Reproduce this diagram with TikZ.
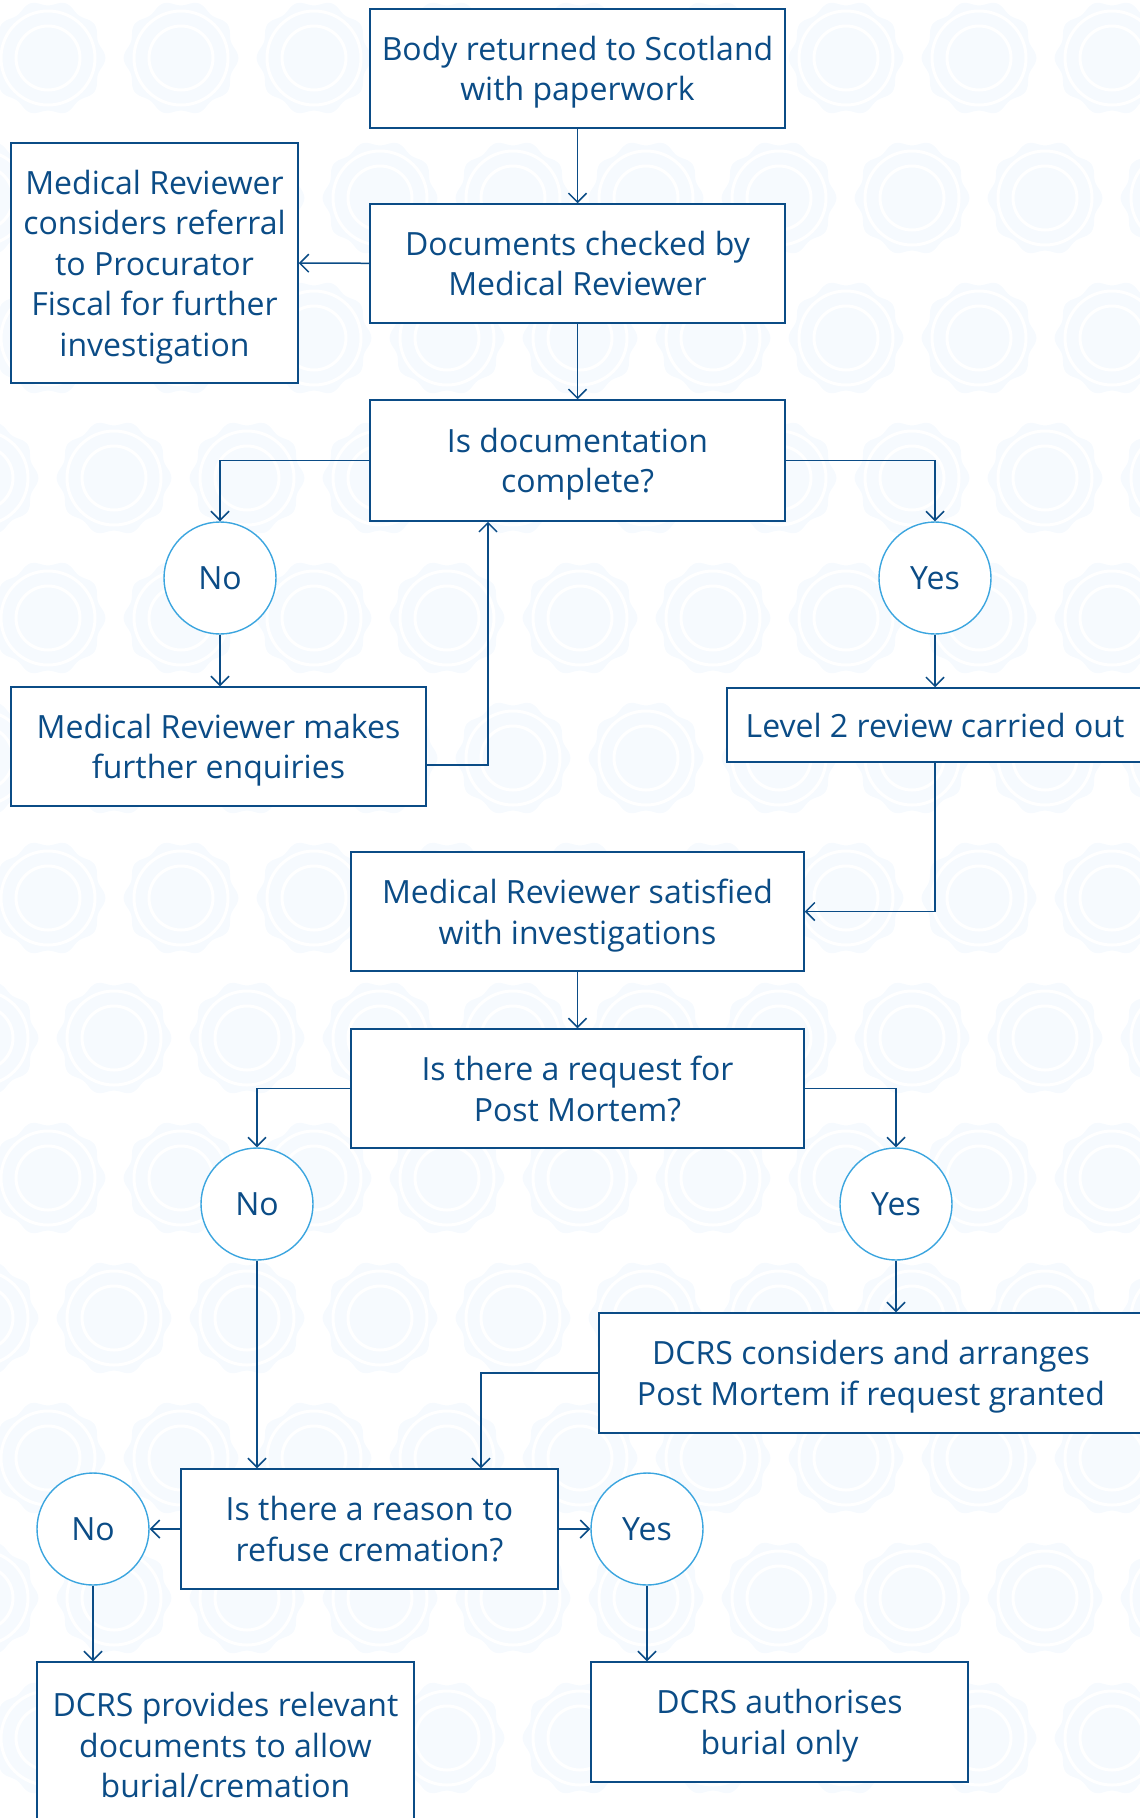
\documentclass[tikz,border=0pt]{standalone}
\usepackage{fontspec}
\setmainfont{Open Sans}
\usetikzlibrary{positioning,calc,arrows.meta}
\definecolor{navy}{HTML}{0B4C86}
\definecolor{sky}{HTML}{3BA5DF}
\definecolor{pale}{HTML}{F6FAFE}
\tikzstyle{block} = [draw=navy, fill=white, rectangle, line width=1.5pt, text=navy, align=center, inner sep=0pt, text depth=0pt]
\tikzstyle{ans} = [draw=sky, fill=white, circle, line width=1.4pt, text=navy, minimum size=112pt, inner sep=0pt]
\tikzstyle{flow} = [-{Straight Barb[length=9pt,width=18pt]}, draw=navy, line width=1.5pt]
\tikzstyle{ring} = [white, line width=3pt]

\begin{document}
\begin{tikzpicture}[x=1pt, y=-1pt, font=\fontsize{32}{40.5}\selectfont]
		\useasboundingbox (0,0) rectangle (1140,1818);
		% background rosettes
		\foreach \j in {0,...,13} {
			\foreach \i in {-1,...,9} {
				\pgfmathsetmacro{\cx}{48+133*\i+66*mod(\j,2)}
				\pgfmathsetmacro{\cy}{58+140*\j}
				\fill[pale] plot[smooth cycle, domain=0:354, samples=60, variable=\t]
					({\cx+(55+2.5*cos(10*\t))*cos(\t)}, {\cy+(55+2.5*cos(10*\t))*sin(\t)});
				\draw[ring] (\cx,\cy) circle[radius=47pt];
				\draw[ring] (\cx,\cy) circle[radius=32pt];
			}
		}
		% boxes
		\node (body) [block, minimum width=415pt, minimum height=119pt] at (577.5,68.5) {Body returned to Scotland\\with paperwork};
		\node (docs) [block, minimum width=415pt, minimum height=119pt] at (577.5,263.5) {Documents checked by\\Medical Reviewer};
		\node (refer) [block, minimum width=287pt, minimum height=240pt] at (154.5,263) {Medical Reviewer\\considers referral\\to Procurator\\Fiscal for further\\investigation};
		\node (compl) [block, minimum width=415pt, minimum height=121pt] at (577.5,460.5) {Is documentation\\complete?};
		\node (no1) [ans] at (220,578) {No};
		\node (yes1) [ans] at (935,578) {Yes};
		\node (enq) [block, minimum width=415pt, minimum height=119pt] at (218.5,746.5) {Medical Reviewer makes\\further enquiries};
		\node (lvl2) [block, minimum width=416pt, minimum height=74pt] at (935,725) {Level 2 review carried out};
		\node (satis) [block, minimum width=453pt, minimum height=119pt] at (577.5,911.5) {Medical Reviewer satisfied\\with investigations};
		\node (pmreq) [block, minimum width=453pt, minimum height=119pt] at (577.5,1088.5) {Is there a request for\\Post Mortem?};
		\node (no2) [ans] at (257,1204) {No};
		\node (yes2) [ans] at (896,1204) {Yes};
		\node (pmdc) [block, minimum width=544pt, minimum height=120pt] at (871,1373) {DCRS considers and arranges\\Post Mortem if request granted};
		\node (refuse) [block, minimum width=377pt, minimum height=120pt] at (369.5,1529) {Is there a reason to\\refuse cremation?};
		\node (no3) [ans] at (93,1529) {No};
		\node (yes3) [ans] at (647,1529) {Yes};
		\node (prov) [block, minimum width=377pt, minimum height=166pt] at (225.5,1745) {DCRS provides relevant\\documents to allow\\burial/cremation};
		\node (burial) [block, minimum width=377pt, minimum height=120pt] at (779.5,1722) {DCRS authorises\\burial only};
		% connectors
		\draw[flow] (body) -- (docs);
		\draw[flow] (docs) -- (refer);
		\draw[flow] (docs) -- (compl);
		\draw[flow] (compl.west) -| (no1.north);
		\draw[flow] (compl.east) -| (yes1.north);
		\draw[flow] (no1.south) -- (no1 |- enq.north);
		\draw[flow] ([yshift=-18.5pt]enq.east) -| ([xshift=-89.5pt]compl.south);
		\draw[flow] (yes1) -- (lvl2);
		\draw[flow] (lvl2.south) |- (satis.east);
		\draw[flow] (satis) -- (pmreq);
		\draw[flow] (pmreq.west) -| (no2.north);
		\draw[flow] (pmreq.east) -| (yes2.north);
		\draw[flow] (yes2.south) -- (yes2 |- pmdc.north);
		\draw[flow] (no2.south) -- (no2 |- refuse.north);
		\draw[flow] (pmdc.west) -| ([xshift=111.5pt]refuse.north);
		\draw[flow] (refuse) -- (no3);
		\draw[flow] (refuse) -- (yes3);
		\draw[flow] (no3.south) -- (no3 |- prov.north);
		\draw[flow] (yes3.south) -- (yes3 |- burial.north);
\end{tikzpicture}
\end{document}
